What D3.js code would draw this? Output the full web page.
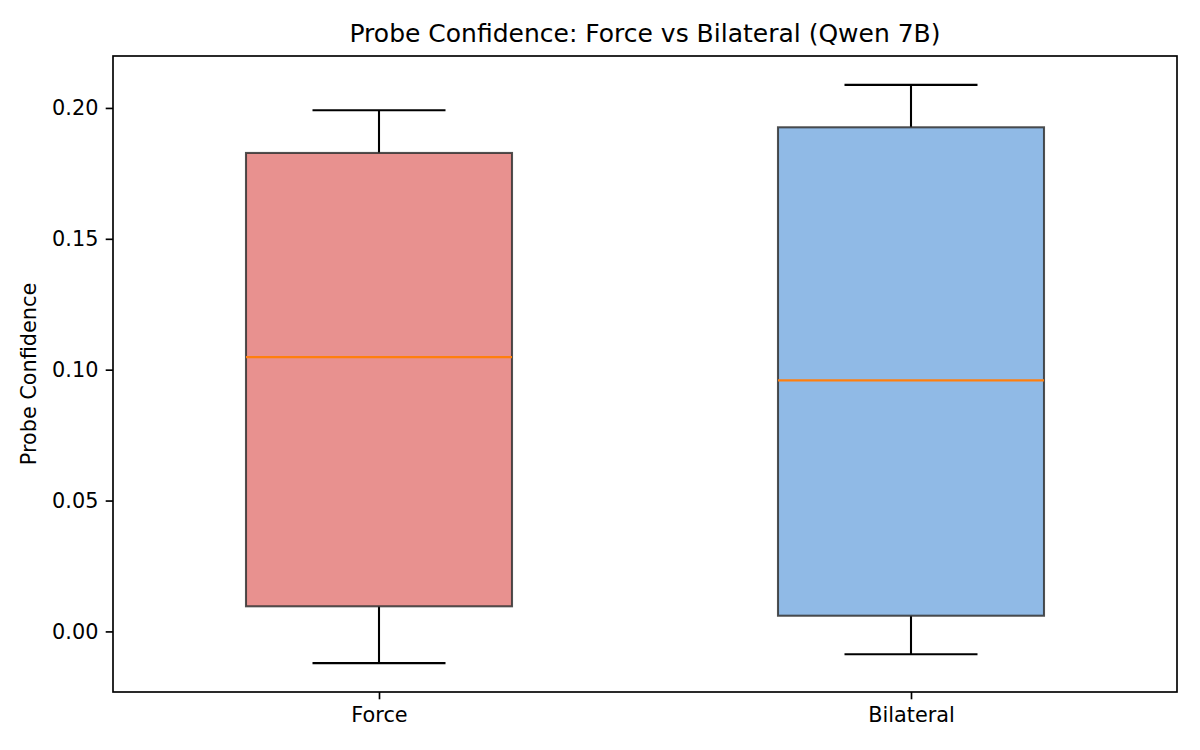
<!DOCTYPE html>
<html>
<head>
<meta charset="utf-8">
<script src="https://cdn.jsdelivr.net/npm/d3@7"></script>
<style>
  body { margin: 0; background: #fff; }
  svg { display: block; font-family: 'DejaVu Sans', sans-serif; }
</style>
</head>
<body>
<div id="chart"></div>
<script>
// box stats
const categories = ['Force', 'Bilateral'];
const whiskerLow = [-0.0121, -0.0087];
const q1 = [0.0096, 0.0060];
const median = [0.1048, 0.0959];
const q3 = [0.1828, 0.1926];
const whiskerHigh = [0.1991, 0.2088];
const yTicks = [0.00, 0.05, 0.10, 0.15, 0.20];

const fillColors = ['#e8918f', '#90bae6'];

const W = 1200, H = 750;
const margin = { top: 56, right: 23, bottom: 58, left: 113 };
const width = W - margin.left - margin.right;
const height = H - margin.top - margin.bottom;

const svg = d3.select('#chart').append('svg')
    .attr('width', W)
    .attr('height', H);

const g = svg.append('g')
    .attr('transform', `translate(${margin.left},${margin.top})`);

// matplotlib-like autoscale: 5% padding around whisker extent
const lo = d3.min(whiskerLow), hi = d3.max(whiskerHigh);
const pad = (hi - lo) * 0.05;

const x = d3.scaleLinear()
    .domain([0.5, categories.length + 0.5])
    .range([0, width]);

const y = d3.scaleLinear()
    .domain([lo - pad, hi + pad])
    .range([height, 0]);

const boxW = 0.5, capW = 0.25;

categories.forEach((cat, i) => {
    const pos = i + 1;
    const bg = g.append('g');

    // whiskers
    bg.append('line')
        .attr('x1', x(pos)).attr('x2', x(pos))
        .attr('y1', y(whiskerLow[i])).attr('y2', y(q1[i]))
        .attr('stroke', '#000').attr('stroke-width', 2.08);
    bg.append('line')
        .attr('x1', x(pos)).attr('x2', x(pos))
        .attr('y1', y(q3[i])).attr('y2', y(whiskerHigh[i]))
        .attr('stroke', '#000').attr('stroke-width', 2.08);

    // caps
    [whiskerLow[i], whiskerHigh[i]].forEach(v => {
        bg.append('line')
            .attr('x1', x(pos - capW / 2)).attr('x2', x(pos + capW / 2))
            .attr('y1', y(v)).attr('y2', y(v))
            .attr('stroke', '#000').attr('stroke-width', 2.08);
    });

    // box
    bg.append('rect')
        .attr('x', x(pos - boxW / 2))
        .attr('width', x(pos + boxW / 2) - x(pos - boxW / 2))
        .attr('y', y(q3[i]))
        .attr('height', y(q1[i]) - y(q3[i]))
        .attr('fill', fillColors[i])
        .attr('stroke', '#333')
        .attr('stroke-opacity', 0.85)
        .attr('stroke-width', 2.08);

    // median
    bg.append('line')
        .attr('x1', x(pos - boxW / 2)).attr('x2', x(pos + boxW / 2))
        .attr('y1', y(median[i])).attr('y2', y(median[i]))
        .attr('stroke', '#ff7f0e').attr('stroke-width', 2.08);
});

// axes
const yAxis = g.append('g')
    .call(d3.axisLeft(y).tickValues(yTicks).tickFormat(d3.format('.2f'))
        .tickSizeOuter(0).tickSize(7.3).tickPadding(7.3));

const xAxis = g.append('g')
    .attr('transform', `translate(0,${height})`)
    .call(d3.axisBottom(x).tickValues(categories.map((_, i) => i + 1))
        .tickFormat((d, i) => categories[i])
        .tickSizeOuter(0).tickSize(7.3).tickPadding(7.3));

[yAxis, xAxis].forEach(ax => {
    ax.select('.domain').remove();
    ax.selectAll('.tick line').attr('stroke', '#000').attr('stroke-width', 1.67);
    ax.selectAll('.tick text')
        .attr('fill', '#000')
        .attr('font-size', '20.8px')
        .attr('font-family', "'DejaVu Sans', sans-serif");
});
xAxis.selectAll('.tick text').attr('dy', null).attr('y', 7.3 + 7.3 + 15.5);

// frame
g.append('rect')
    .attr('width', width)
    .attr('height', height)
    .attr('fill', 'none')
    .attr('stroke', '#000')
    .attr('stroke-width', 1.67);

// title
svg.append('text')
    .attr('x', margin.left + width / 2)
    .attr('y', 42)
    .attr('text-anchor', 'middle')
    .attr('font-size', '25px')
    .attr('fill', '#000')
    .text('Probe Confidence: Force vs Bilateral (Qwen 7B)');

// y label
svg.append('text')
    .attr('transform', `translate(36,${margin.top + height / 2}) rotate(-90)`)
    .attr('text-anchor', 'middle')
    .attr('font-size', '20.8px')
    .attr('fill', '#000')
    .text('Probe Confidence');
</script>
</body>
</html>
